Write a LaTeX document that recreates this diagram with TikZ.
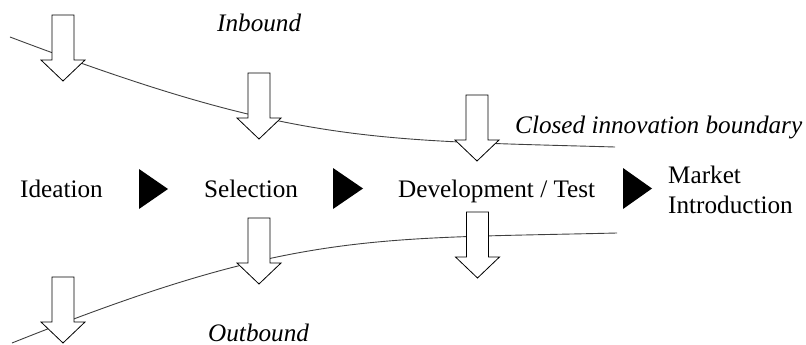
\documentclass[tikz,border=0pt]{standalone}
\usepackage{fontspec}
\setmainfont{Liberation Serif}
\begin{document}
\begin{tikzpicture}[x=1pt,y=-1pt,
  lbl/.style={inner sep=0pt,anchor=base west,font=\fontsize{25.2}{30.5}\selectfont},
  ilbl/.style={lbl,font=\fontsize{25.2}{30.5}\selectfont\itshape},
  boundary/.style={draw=black!75,line width=0.9pt},
  flowtri/.style={fill=black,draw=none},
  blockarrow/.pic={
    \draw[fill=white,draw=black,line width=0.8pt,line join=miter]
      (-11,0) -- (11,0) -- (11,45) -- (22,45) -- (0,66) -- (-22,45) -- (-11,45) -- cycle;
  }]
\useasboundingbox (0,0) rectangle (806,345);

% open innovation boundaries
\coordinate (topL) at (10,37);
\coordinate (topR) at (615,147);
\coordinate (botL) at (12,343);
\coordinate (botR) at (617,233);
\draw[boundary] (topL) .. controls (290,143) and (365,140) .. (topR);
\draw[boundary] (botL) .. controls (292,231) and (367,239) .. (botR);

% inbound knowledge flows
\pic at (63,15) {blockarrow};
\pic at (259,73) {blockarrow};
\pic at (477,95) {blockarrow};
% outbound knowledge flows
\pic at (259,218) {blockarrow};
\pic at (63,277) {blockarrow};
\pic at (477.5,212) {blockarrow};

% process stages
\node[lbl] (idea) at (20,197) {Ideation};
\node[lbl] (sel) at (204,197) {Selection};
\node[lbl] (dev) at (398,197) {Development / Test};
\node[lbl] (mkt) at (668,183) {Market};
\node[lbl] (intro) at (668,213) {Introduction};

% stage transitions
\fill[flowtri] (139,169) -- (168,189) -- (139,209) -- cycle;
\fill[flowtri] (333,168) -- (363,188.5) -- (333,209) -- cycle;
\fill[flowtri] (623,168) -- (652,188.5) -- (623,209) -- cycle;

% labels
\node[ilbl] (inb) at (217,32) {Inbound};
\node[ilbl] (outb) at (208,341) {Outbound};
\node[ilbl] (closed) at (515,133) {Closed innovation boundary};
\end{tikzpicture}
\end{document}
